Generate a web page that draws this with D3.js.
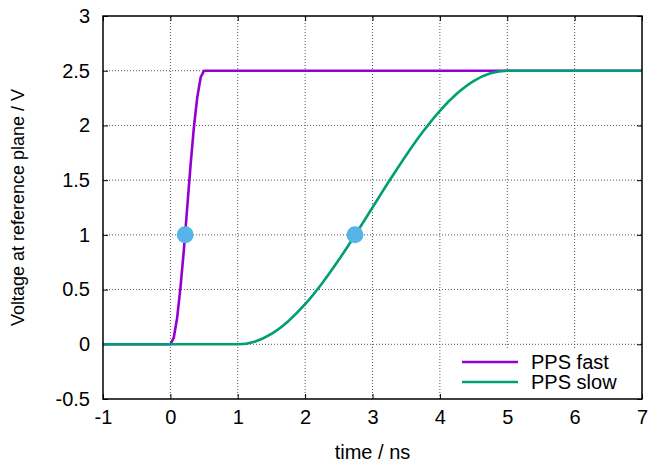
<!DOCTYPE html>
<html><head><meta charset="utf-8">
<script src="https://cdn.jsdelivr.net/npm/d3@7"></script>
<style>body{margin:0;background:#fff}svg{display:block}text{font-family:"Liberation Sans",Arial,sans-serif;font-size:20px;fill:#000}</style>
</head><body><svg id="c" width="649" height="464"></svg>
<script>
const xTicks = [-1,0,1,2,3,4,5,6,7];
const yTicks = [-0.5,0,0.5,1,1.5,2,2.5,3];
const fastX = [-1,0,0.05,0.1,0.15,0.2,0.25,0.3,0.35,0.4,0.45,0.5,7];
const fastY = [0,0,0.06,0.24,0.52,0.86,1.25,1.64,1.99,2.26,2.44,2.5,2.5];
const slowX = [-1,1,1.25,1.5,1.75,2,2.25,2.5,2.75,3,3.25,3.5,3.75,4,4.25,4.5,4.75,5,7];
const slowY = [0,0,0.024,0.095,0.211,0.366,0.556,0.772,1.006,1.25,1.494,1.728,1.944,2.134,2.289,2.405,2.476,2.5,2.5];
const markX = [0.22,2.74];
const markY = [1,1];
const seriesNames = ["PPS fast","PPS slow"];
const colors = ["#9400d3","#009e73"];

const W=649,H=464,m={l:103,r:7,t:16,b:65};
const svg=d3.select("#c");
const x=d3.scaleLinear().domain([-1,7]).range([m.l,W-m.r]);
const y=d3.scaleLinear().domain([-0.5,3]).range([H-m.b,m.t]);
const g=svg.append("g");
// grid
g.selectAll(".gx").data(xTicks.slice(1,-1)).join("line")
 .attr("x1",d=>x(d)).attr("x2",d=>x(d)).attr("y1",y(-0.5)).attr("y2",y(3))
 .attr("stroke","#555").attr("stroke-width",1).attr("stroke-dasharray","1,2");
g.selectAll(".gy").data(yTicks.slice(1,-1)).join("line")
 .attr("y1",d=>y(d)).attr("y2",d=>y(d)).attr("x1",x(-1)).attr("x2",x(7))
 .attr("stroke","#555").attr("stroke-width",1).attr("stroke-dasharray","1,2");
// axes
const fmt=d=>String(d);
const xa=svg.append("g").attr("transform",`translate(0,${y(-0.5)})`)
 .call(d3.axisBottom(x).tickValues(xTicks).tickSize(-5).tickPadding(11).tickFormat(fmt));
const ya=svg.append("g").attr("transform",`translate(${x(-1)},0)`)
 .call(d3.axisLeft(y).tickValues(yTicks).tickSize(-5).tickPadding(13).tickFormat(fmt));
[xa,ya].forEach(a=>{a.select(".domain").remove();a.selectAll("line").attr("stroke","#000");a.selectAll("text").style("font-size","20px").attr("fill","#000").style("font-family","Liberation Sans, Arial, sans-serif");});
// top/right mirrored ticks
svg.append("g").attr("transform",`translate(0,${y(3)})`).call(d3.axisTop(x).tickValues(xTicks).tickSize(-5).tickFormat(""))
 .call(a=>{a.select(".domain").remove();a.selectAll("line").attr("stroke","#000");});
svg.append("g").attr("transform",`translate(${x(7)},0)`).call(d3.axisRight(y).tickValues(yTicks).tickSize(-5).tickFormat(""))
 .call(a=>{a.select(".domain").remove();a.selectAll("line").attr("stroke","#000");});

// legend background
svg.append("rect").attr("x",450).attr("y",349).attr("width",x(7)-450).attr("height",y(-0.5)-349).attr("fill","#fff");

const line=d3.line().x(d=>x(d[0])).y(d=>y(d[1]));
const fast=fastX.map((v,i)=>[v,fastY[i]]);
const slow=slowX.map((v,i)=>[v,slowY[i]]);
svg.append("path").datum(fast).attr("d",line).attr("fill","none").attr("stroke",colors[0]).attr("stroke-width",2.6).attr("stroke-linejoin","round");
svg.append("path").datum(slow).attr("d",line.curve(d3.curveMonotoneX)).attr("fill","none").attr("stroke",colors[1]).attr("stroke-width",2.6).attr("stroke-linejoin","round");
svg.selectAll(".mk").data(markX.map((v,i)=>[v,markY[i]])).join("circle")
 .attr("cx",d=>x(d[0])).attr("cy",d=>y(d[1])).attr("r",8.5).attr("fill","#56b4e9");

// legend
seriesNames.forEach((n,i)=>{
 const yy=362+i*20;
 svg.append("line").attr("x1",462).attr("x2",518).attr("y1",yy).attr("y2",yy).attr("stroke",colors[i]).attr("stroke-width",2.6);
 svg.append("text").attr("x",531).attr("y",yy+7).text(n);
});

// border
svg.append("rect").attr("x",x(-1)).attr("y",y(3)).attr("width",x(7)-x(-1)).attr("height",y(-0.5)-y(3))
 .attr("fill","none").attr("stroke","#000").attr("stroke-width",1.5);

// axis labels
svg.append("text").attr("x",(x(-1)+x(7))/2).attr("y",459).attr("text-anchor","middle").text("time / ns");
svg.append("text").attr("transform",`translate(24,${(y(-0.5)+y(3))/2}) rotate(-90)`).attr("text-anchor","middle").style("font-size","18px").text("Voltage at reference plane / V");
</script></body></html>
